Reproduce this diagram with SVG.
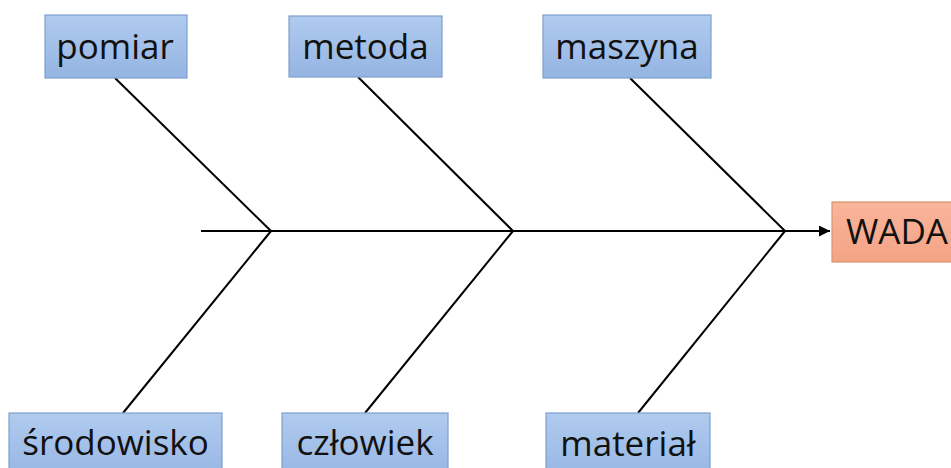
<svg xmlns="http://www.w3.org/2000/svg" width="951" height="468" viewBox="0 0 951 468">
<style>
.box{fill:url(#blue);stroke:#7f9fcc;stroke-width:1.2}
.eff{fill:url(#orange);stroke:#d8956e;stroke-width:1.2}
.lbl{font-family:"Open Sans","Noto Sans","Liberation Sans",sans-serif;font-size:35px;fill:#111;text-anchor:middle}
.ln{stroke:#000;stroke-width:2;fill:none}
</style>
<defs>
<linearGradient id="blue" x1="0" y1="0" x2="0" y2="1"><stop offset="0" stop-color="#b0cbef"/><stop offset="1" stop-color="#94b4e2"/></linearGradient>
<linearGradient id="orange" x1="0" y1="0" x2="0" y2="1"><stop offset="0" stop-color="#f9b59a"/><stop offset="1" stop-color="#f4a385"/></linearGradient>
<marker id="arr" viewBox="0 0 10 10" refX="10" refY="5" markerWidth="5.5" markerHeight="5.5" orient="auto" markerUnits="strokeWidth"><path d="M0,0 L10,5 L0,10 z" fill="#000"/></marker>
</defs>
<rect width="951" height="468" fill="#fff"/>
<g id="connectors">
<line class="ln" x1="201" y1="231" x2="830" y2="231" marker-end="url(#arr)"/>
<line class="ln" x1="115" y1="78" x2="271" y2="231"/>
<line class="ln" x1="358" y1="77" x2="513" y2="231"/>
<line class="ln" x1="630" y1="78" x2="785" y2="231"/>
<line class="ln" x1="271" y1="231" x2="123" y2="413"/>
<line class="ln" x1="513" y1="231" x2="365" y2="413"/>
<line class="ln" x1="785" y1="231" x2="638" y2="413"/>
</g>
<g id="pomiar"><rect class="box" x="45" y="15" width="142" height="63"/><text class="lbl" x="115" y="59">pomiar</text></g>
<g id="metoda"><rect class="box" x="289" y="16" width="153" height="61"/><text class="lbl" x="365.5" y="59">metoda</text></g>
<g id="maszyna"><rect class="box" x="543" y="15" width="168" height="63"/><text class="lbl" x="627" y="59">maszyna</text></g>
<g id="srodowisko"><rect class="box" x="9" y="413" width="213" height="70"/><text class="lbl" x="115.5" y="455">środowisko</text></g>
<g id="czlowiek"><rect class="box" x="282" y="413" width="166" height="70"/><text class="lbl" x="365" y="455">człowiek</text></g>
<g id="material"><rect class="box" x="546" y="413" width="164" height="70"/><text class="lbl" x="628" y="456">materiał</text></g>
<g id="wada"><rect class="eff" x="832" y="202" width="130" height="60"/><text class="lbl" x="897" y="244">WADA</text></g>
</svg>
